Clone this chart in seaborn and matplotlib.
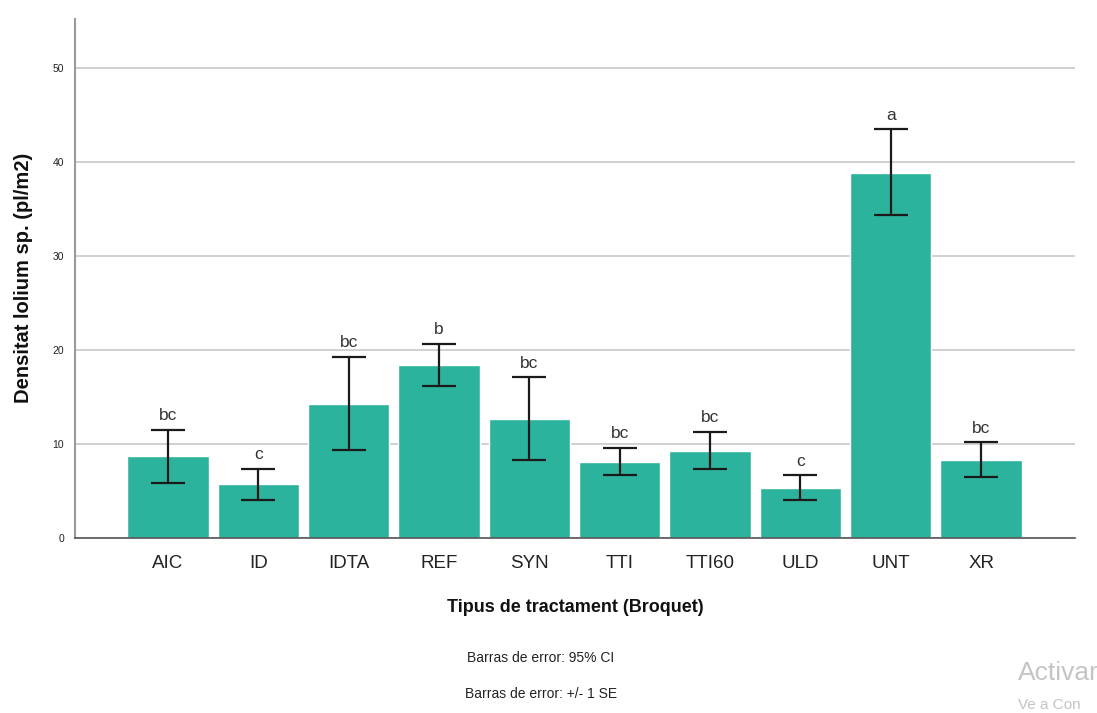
import numpy as np
import pandas as pd
import matplotlib
matplotlib.use("Agg")
import matplotlib.pyplot as plt
import seaborn as sns

# Mean weed density per treatment with error-bar limits and letter groups
treatments = ["AIC", "ID", "IDTA", "REF", "SYN", "TTI", "TTI60", "ULD", "UNT", "XR"]
density = [8.7, 5.7, 14.3, 18.4, 12.7, 8.1, 9.3, 5.3, 38.9, 8.3]
err_low = [5.9, 4.0, 9.4, 16.2, 8.3, 6.7, 7.4, 4.0, 34.4, 6.5]
err_high = [11.5, 7.4, 19.3, 20.7, 17.1, 9.6, 11.3, 6.7, 43.5, 10.2]
letters = ["bc", "c", "bc", "b", "bc", "bc", "bc", "c", "a", "bc"]

sns.set_theme(style="white")
plt.rcParams["font.family"] = ["Liberation Sans", "DejaVu Sans"]

df = pd.DataFrame({"Tractament": treatments, "Densitat": density})

fig = plt.figure(figsize=(10.97, 7.13), dpi=100)
ax = fig.add_axes([0.0684, 0.2454, 0.9116, 0.7286])

ax.set_axisbelow(True)
ax.yaxis.grid(True, color="#c8c8c8", linewidth=1.2)

sns.barplot(data=df, x="Tractament", y="Densitat", color="#2cb39d",
            saturation=1, width=0.9, errorbar=None, ax=ax, zorder=2)

x = np.arange(len(treatments))
mean = np.array(density)
lo = mean - np.array(err_low)
hi = np.array(err_high) - mean
ax.errorbar(x, mean, yerr=[lo, hi], fmt="none", ecolor="#1a1a1a",
            elinewidth=1.6, capsize=12, capthick=1.6, zorder=3)

for xi, top, lab in zip(x, err_high, letters):
    ax.text(xi, top + 0.7, lab, ha="center", va="bottom",
            fontsize=12.5, color="#333333")

ax.set_xlim(-1.03, 10.04)
ax.set_ylim(0, 55.3)
ax.set_yticks([0, 10, 20, 30, 40, 50])
ax.tick_params(axis="y", labelsize=7.5, length=0, pad=8, labelcolor="#222222")
ax.tick_params(axis="x", labelsize=13.5, length=0, pad=12, labelcolor="#222222")

for s in ["top", "right"]:
    ax.spines[s].set_visible(False)
ax.spines["left"].set_color("#9a9a9a")
ax.spines["left"].set_linewidth(1.5)
ax.spines["bottom"].set_color("#555555")
ax.spines["bottom"].set_linewidth(1.2)

ax.set_ylabel("Densitat lolium sp. (pl/m2)", fontsize=14.5, fontweight="bold",
              color="#111111", labelpad=14)
ax.set_xlabel("Tipus de tractament (Broquet)", fontsize=13, fontweight="bold",
              color="#111111", labelpad=20)

fig.text(0.493, 0.077, "Barras de error: 95% CI", ha="center", va="center",
         fontsize=10, color="#222222")
fig.text(0.493, 0.027, "Barras de error: +/- 1 SE", ha="center", va="center",
         fontsize=10, color="#222222")

fig.text(0.928, 0.056, "Activar", ha="left", va="center",
         fontsize=19, color="#c4c4c4")
fig.text(0.928, 0.011, "Ve a Con", ha="left", va="center",
         fontsize=11, color="#c4c4c4")

fig.savefig("out.png", dpi=100)
